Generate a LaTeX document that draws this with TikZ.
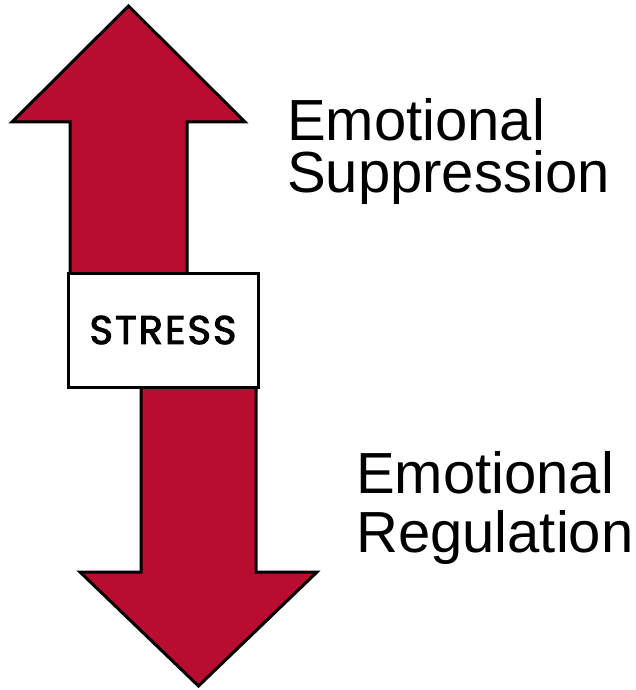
\documentclass[tikz,border=0pt]{standalone}
\usepackage{fontspec}
\setmainfont{Liberation Sans}
\newfontfamily\stressfont[LetterSpace=5,FakeBold=2.5]{Poppins}
\definecolor{stRed}{HTML}{B80D30}
\usetikzlibrary{positioning}

\begin{document}
\begin{tikzpicture}[x=1pt, y=-1pt,
  arrowshape/.style={draw=black, fill=stRed, line width=3pt, miter limit=10},
  box/.style={rectangle, draw=black, fill=white, line width=3pt,
              minimum width=190pt, minimum height=114pt, inner sep=0pt,
              font=\stressfont\fontsize{40}{44}\selectfont},
  lbl/.style={anchor=base west, inner sep=0pt, font=\fontsize{58}{58}\selectfont}
]
  \useasboundingbox (0,0) rectangle (636,690);

  % up and down arrows
  \draw[arrowshape] (70,300) -- (70,122) -- (12,122) -- (128.5,6)
    -- (245,122) -- (187,122) -- (187,300);
  \draw[arrowshape] (141,360) -- (141,572) -- (80,572) -- (198.5,686)
    -- (317,572) -- (256,572) -- (256,360);

  \node[box] (stress) at (163,330) {STRESS};

  \node[lbl] (supp1) at (287,140) {Emotional};
  \node[lbl] (supp2) at (287,192) {Suppression};
  \node[lbl] (reg1)  at (356,493) {Emotional};
  \node[lbl] (reg2)  at (356,552) {Regulation};
\end{tikzpicture}
\end{document}
